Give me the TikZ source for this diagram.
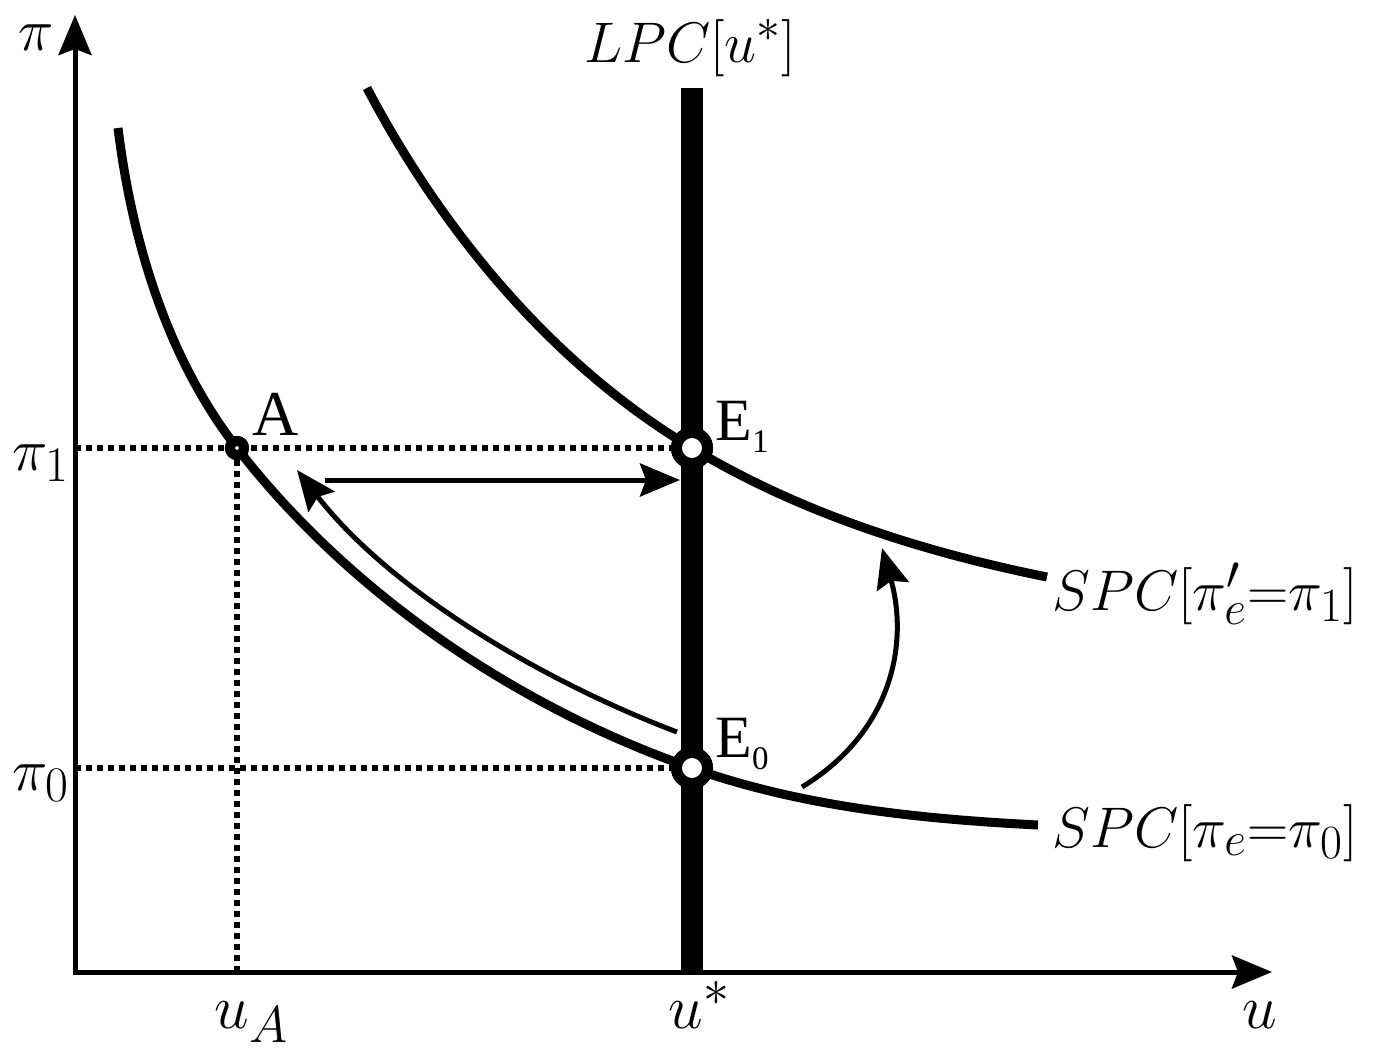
\documentclass[tikz,border=0pt]{standalone}
\usepackage{fontspec}
\usepackage{graphicx}
\setmainfont{Liberation Serif}
\usetikzlibrary{arrows.meta}

% math label, enlarged past the largest math size
\newcommand\biglabel[2][1.2]{\scalebox{#1}{\fontsize{24.88}{28}\selectfont$#2$}}

\tikzset{
  axis/.style={line width=2.5pt},
  guide/.style={line width=3pt, dash pattern=on 3pt off 2.5pt},
  spc/.style={line width=4.5pt},
  lpc/.style={line width=11pt},
  move/.style={line width=2.5pt, ->},
  epoint/.style={circle, draw, fill=white, line width=5.5pt, minimum size=15.5pt, inner sep=0pt},
  apoint/.style={circle, draw, fill=white, line width=5pt, minimum size=7pt, inner sep=0pt},
  lbl/.style={inner sep=0pt, anchor=base west},
}

\begin{document}
\begin{tikzpicture}[x=0.5pt, y=-0.5pt,
  >={Stealth[length=20pt, width=16.5pt, inset=3pt]}]
\useasboundingbox (0,0) rectangle (1373,1051);

\coordinate (O) at (75,972);
\coordinate (ytip) at (75,15);
\coordinate (xtip) at (1272,972);
\coordinate (lpctop) at (692,88);

\node[apoint] (A) at (237,448) {};
\node[epoint] (E1) at (692,448) {};
\node[epoint] (E0) at (692,768) {};

% dotted guides
\draw[guide] (O |- A) -- (E1.west);
\draw[guide] (O |- E0) -- (E0.west);
\draw[guide] (A.south) -- (A |- O);

% axes
\draw[axis, <->] (ytip) -- (O) -- (xtip);

% curves
\coordinate (s0a) at (118,128);
\coordinate (s0b) at (1038,825);
\coordinate (s1a) at (367,88);
\coordinate (s1b) at (1047,577);
\draw[spc] (s0a) .. controls (132,241) and (167,358) .. (A.center)
  .. controls (350,594) and (517,707) .. (E0.center)
  .. controls (802,807) and (921,819) .. (s0b);
\draw[spc] (s1a) .. controls (442,231) and (553,365) .. (E1.center)
  .. controls (800,513) and (923,552) .. (s1b);
\draw[lpc] (lpctop) -- (lpctop |- O);

% redraw the points on top
\node[apoint] at (A) {};
\node[epoint] at (E1) {};
\node[epoint] at (E0) {};

% movements
\coordinate (h0) at (325,480);
\coordinate (h1) at (680,480);
\draw[move] (h0) -- (h1);
\coordinate (b0) at (677,732);
\coordinate (b1) at (297,470);
\draw[move] (b0) .. controls (540,680) and (390,590) .. (b1);
\coordinate (c0) at (802,787);
\coordinate (c1) at (882,548);
\draw[move] (c0) .. controls (895,730) and (908,640) .. (c1);

% labels
\node[lbl] (lblpi) at (18,50) {\biglabel{\pi}};
\node[inner sep=0pt, anchor=base] (lblLPC) at (690,62) {\biglabel[1.15]{LPC[u^*]}};
\node[lbl] (lblpi1) at (12,470) {\biglabel{\pi_1}};
\node[lbl] (lblpi0) at (12,790) {\biglabel{\pi_0}};
\node[lbl, font=\fontsize{32}{36}\selectfont] (lblA) at (252,435) {A};
\node[lbl, font=\fontsize{30}{34}\selectfont] (lblE1) at (715,440) {E\raisebox{-0.2em}{\scalebox{0.55}{1}}};
\node[lbl, font=\fontsize{30}{34}\selectfont] (lblE0) at (715,757) {E\raisebox{-0.2em}{\scalebox{0.55}{0}}};
\node[lbl] (lblspc1) at (1052,610) {\biglabel[1.15]{SPC[\pi'_e{=}\pi_1]}};
\node[lbl] (lblspc0) at (1052,847) {\biglabel[1.15]{SPC[\pi_e{=}\pi_0]}};
\node[lbl] (lbluA) at (214,1028) {\biglabel[1.25]{u_A}};
\node[lbl] (lblustar) at (668,1028) {\biglabel[1.25]{u^*}};
\node[lbl] (lblu) at (1242,1028) {\biglabel[1.25]{u}};
\end{tikzpicture}
\end{document}
